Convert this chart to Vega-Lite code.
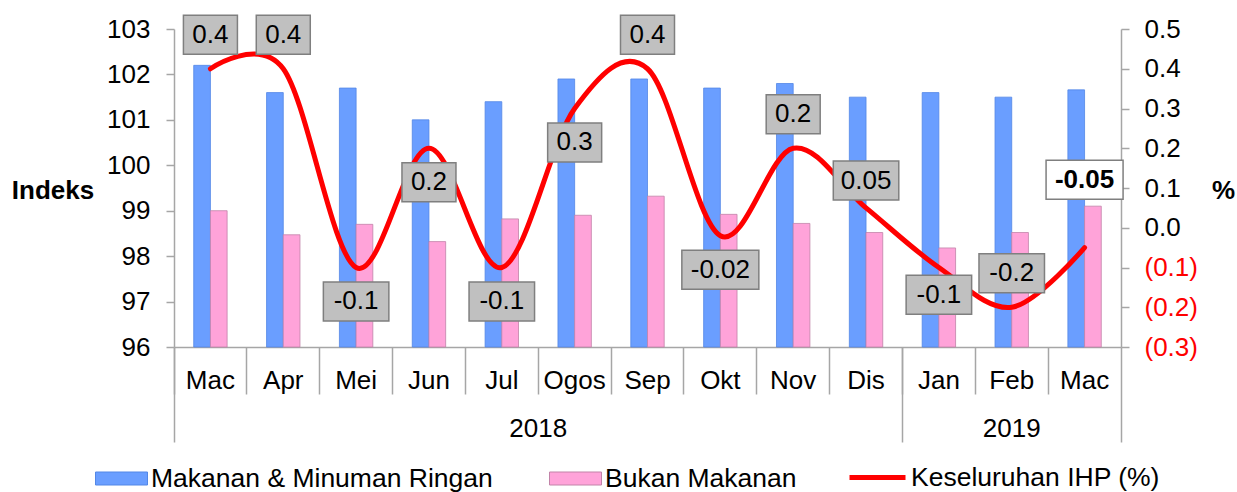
{
  "$schema": "https://vega.github.io/schema/vega-lite/v6.json",
  "width": 947,
  "height": 318,
  "autosize": {"type": "none"},
  "padding": {"left": 174, "top": 29, "right": 116, "bottom": 145},
  "background": "white",
  "config": {
    "font": "Liberation Sans",
    "view": {"stroke": null},
    "axis": {
      "domainColor": "#A6A6A6",
      "tickColor": "#A6A6A6",
      "domainWidth": 1.5,
      "tickWidth": 1.5,
      "labelFont": "Liberation Sans",
      "labelFontSize": 26,
      "labelColor": "black",
      "titleFont": "Liberation Sans",
      "titleColor": "black",
      "grid": false
    },
    "legend": {
      "orient": "none",
      "padding": 0,
      "labelFont": "Liberation Sans",
      "labelFontSize": 26.5,
      "labelColor": "black",
      "labelOffset": 3,
      "labelLimit": 0
    }
  },
  "data": {
    "values": [
      {"key": "2018-Mac", "food": 102.2, "nonfood": 99.0, "ihp": 0.4, "label": "0.4", "side": "up"},
      {"key": "2018-Apr", "food": 101.6, "nonfood": 98.47, "ihp": 0.4, "label": "0.4", "side": "up"},
      {"key": "2018-Mei", "food": 101.7, "nonfood": 98.7, "ihp": -0.1, "label": "-0.1", "side": "down"},
      {"key": "2018-Jun", "food": 101.0, "nonfood": 98.32, "ihp": 0.2, "label": "0.2", "side": "down"},
      {"key": "2018-Jul", "food": 101.4, "nonfood": 98.82, "ihp": -0.1, "label": "-0.1", "side": "down"},
      {"key": "2018-Ogos", "food": 101.9, "nonfood": 98.9, "ihp": 0.3, "label": "0.3", "side": "down"},
      {"key": "2018-Sep", "food": 101.9, "nonfood": 99.32, "ihp": 0.4, "label": "0.4", "side": "up"},
      {"key": "2018-Okt", "food": 101.7, "nonfood": 98.92, "ihp": -0.02, "label": "-0.02", "side": "down"},
      {"key": "2018-Nov", "food": 101.8, "nonfood": 98.72, "ihp": 0.2, "label": "0.2", "side": "up"},
      {"key": "2018-Dis", "food": 101.5, "nonfood": 98.52, "ihp": 0.05, "label": "0.05", "side": "up2"},
      {"key": "2019-Jan", "food": 101.6, "nonfood": 98.18, "ihp": -0.1, "label": "-0.1", "side": "down2"},
      {"key": "2019-Feb", "food": 101.5, "nonfood": 98.52, "ihp": -0.2, "label": "-0.2", "side": "up"},
      {"key": "2019-Mac", "food": 101.66, "nonfood": 99.1, "ihp": -0.05, "label": "-0.05", "side": "top"}
    ]
  },
  "transform": [
    {"calculate": "length(datum.label)", "as": "len"},
    {"calculate": "datum.ihp + (datum.side == 'up' ? 0.0855 : datum.side == 'down' ? -0.0855 : datum.side == 'up2' ? 0.0687 : datum.side == 'down2' ? -0.0687 : 0.1706)", "as": "anchor"}
  ],
  "layer": [
    {
      "mark": {"type": "bar", "width": 16.7, "xOffset": -8.35, "stroke": "#5387E6", "strokeWidth": 0.8},
      "encoding": {
        "x": {
          "field": "key", "type": "nominal", "sort": null,
          "scale": {"paddingInner": 0, "paddingOuter": 0},
          "axis": {
            "orient": "bottom", "bandPosition": 0, "tickSize": 47, "labelPadding": -27,
            "labelAngle": 0, "labelBaseline": "top", "labelAlign": "center",
            "labelExpr": "split(datum.label, '-')[1]", "title": null
          }
        },
        "y": {
          "field": "food", "type": "quantitative",
          "scale": {"domain": [96, 103], "nice": false, "zero": false},
          "axis": {
            "orient": "left", "values": [96, 97, 98, 99, 100, 101, 102, 103], "format": "d",
            "tickSize": 8, "labelPadding": 16,
            "title": "Indeks", "titleAngle": 0, "titleX": -121.5, "titleY": 161,
            "titleFontSize": 26, "titleFontWeight": "bold", "titleAlign": "center", "titleBaseline": "middle"
          }
        },
        "y2": {"datum": 96},
        "fill": {
          "datum": "Makanan & Minuman Ringan", "type": "nominal",
          "scale": {"range": ["#6A9EFF"]},
          "legend": {
            "title": null, "legendX": -79, "legendY": 423,
            "symbolType": "M-1,-0.25H1V0.25H-1Z", "symbolSize": 2704,
            "symbolStrokeColor": "#5387E6", "symbolStrokeWidth": 1
          }
        }
      }
    },
    {
      "mark": {"type": "bar", "width": 16.7, "xOffset": 8.35, "stroke": "#C283A8", "strokeWidth": 0.8},
      "encoding": {
        "x": {
          "field": "key", "type": "nominal", "sort": null,
          "axis": {
            "orient": "bottom", "values": ["2018-Mac", "2019-Jan"], "bandPosition": 0,
            "tickSize": 95, "domain": false, "labelPadding": -27, "labelAngle": 0,
            "labelBaseline": "top", "labelAlign": "center",
            "labelExpr": "datum.value == '2018-Mac' ? '2018' : '2019'",
            "labelOffset": {"condition": {"test": "datum.value == '2018-Mac'", "value": 327.8}, "value": 72.85},
            "title": null
          }
        },
        "y": {
          "field": "nonfood", "type": "quantitative",
          "scale": {"domain": [96, 103], "nice": false, "zero": false},
          "axis": null
        },
        "y2": {"datum": 96},
        "color": {
          "datum": "Bukan Makanan", "type": "nominal",
          "scale": {"range": ["#FFA3D9"]},
          "legend": {
            "title": null, "legendX": 375, "legendY": 423,
            "symbolType": "M-1,-0.25H1V0.25H-1Z", "symbolSize": 2704,
            "symbolStrokeColor": "#C283A8", "symbolStrokeWidth": 1
          }
        }
      }
    },
    {
      "mark": {"type": "line", "interpolate": "cardinal", "strokeWidth": 5, "strokeCap": "round"},
      "encoding": {
        "x": {
          "field": "key", "type": "nominal", "sort": null,
          "axis": {
            "orient": "bottom", "values": ["2019-Mac"], "bandPosition": 1, "tickSize": 95,
            "domain": false, "labels": false, "title": null
          }
        },
        "y": {
          "field": "ihp", "type": "quantitative",
          "scale": {"domain": [-0.3, 0.5], "nice": false, "zero": false},
          "axis": {
            "orient": "right", "values": [-0.3, -0.2, -0.1, 0, 0.1, 0.2, 0.3, 0.4, 0.5],
            "tickSize": 8, "labelPadding": 15,
            "labelExpr": "datum.value < 0 ? '(' + format(-datum.value, '.1f') + ')' : format(datum.value, '.1f')",
            "labelColor": {"condition": {"test": "datum.value < 0", "value": "#FF0000"}, "value": "black"},
            "title": "%", "titleAngle": 0, "titleX": 102, "titleY": 161,
            "titleFontSize": 26, "titleFontWeight": "bold", "titleAlign": "center", "titleBaseline": "middle"
          }
        },
        "stroke": {
          "datum": "Keseluruhan IHP (%)", "type": "nominal",
          "scale": {"range": ["#FF0000"]},
          "legend": {
            "title": null, "legendX": 673, "legendY": 418,
            "symbolType": "stroke", "symbolSize": 3136, "symbolStrokeWidth": 5
          }
        }
      }
    },
    {
      "transform": [{"filter": "datum.side != 'top'"}],
      "mark": {"type": "tick", "thickness": 39, "fill": "#C0C0C0", "stroke": "#7F7F7F", "strokeWidth": 1.5, "opacity": 1},
      "encoding": {
        "x": {"field": "key", "type": "nominal", "sort": null, "axis": null},
        "y": {
          "field": "anchor", "type": "quantitative",
          "scale": {"domain": [-0.3, 0.5], "nice": false, "zero": false}, "axis": null
        },
        "size": {
          "field": "len", "type": "quantitative",
          "scale": {"domain": [3, 5], "range": [54, 77]}, "legend": null
        }
      }
    },
    {
      "transform": [{"filter": "datum.side != 'top'"}],
      "mark": {"type": "text", "fontSize": 26, "color": "black", "align": "center", "baseline": "middle"},
      "encoding": {
        "x": {"field": "key", "type": "nominal", "sort": null, "axis": null},
        "y": {
          "field": "anchor", "type": "quantitative",
          "scale": {"domain": [-0.3, 0.5], "nice": false, "zero": false}, "axis": null
        },
        "text": {"field": "label"}
      }
    },
    {
      "transform": [{"filter": "datum.side == 'top'"}],
      "mark": {"type": "tick", "thickness": 39, "fill": "white", "stroke": "#7F7F7F", "strokeWidth": 1.5, "opacity": 1},
      "encoding": {
        "x": {"field": "key", "type": "nominal", "sort": null, "axis": null},
        "y": {
          "field": "anchor", "type": "quantitative",
          "scale": {"domain": [-0.3, 0.5], "nice": false, "zero": false}, "axis": null
        },
        "size": {
          "field": "len", "type": "quantitative",
          "scale": {"domain": [3, 5], "range": [54, 78]}, "legend": null
        }
      }
    },
    {
      "transform": [{"filter": "datum.side == 'top'"}],
      "mark": {"type": "text", "fontSize": 26, "fontWeight": "bold", "color": "black", "align": "center", "baseline": "middle"},
      "encoding": {
        "x": {"field": "key", "type": "nominal", "sort": null, "axis": null},
        "y": {
          "field": "anchor", "type": "quantitative",
          "scale": {"domain": [-0.3, 0.5], "nice": false, "zero": false}, "axis": null
        },
        "text": {"field": "label"}
      }
    }
  ],
  "resolve": {
    "scale": {"y": "independent"},
    "axis": {"x": "independent", "y": "independent"}
  }
}
